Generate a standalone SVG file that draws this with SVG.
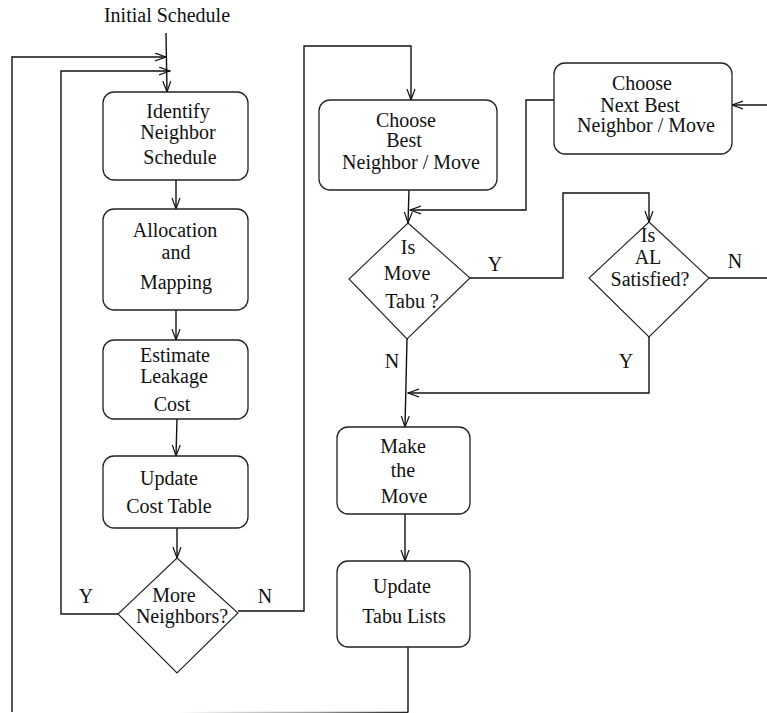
<svg xmlns="http://www.w3.org/2000/svg" width="767" height="713" viewBox="0 0 767 713">
  <style>
    .box { fill: #fff; stroke: #222; stroke-width: 1.3; }
    .dia { fill: #fff; stroke: #222; stroke-width: 1.1; }
    .t { font-family: "Liberation Serif", "Times New Roman", serif; font-size: 20px; fill: #111; text-anchor: middle; }
    .c { fill: none; stroke: #111; stroke-width: 1.4; }
    .ca { fill: none; stroke: #111; stroke-width: 1.4; marker-end: url(#arr); }
  </style>
  <defs>
    <marker id="arr" markerUnits="userSpaceOnUse" markerWidth="12" markerHeight="10" refX="11" refY="4.5" orient="auto">
      <path d="M0,0.5 L11,4.5 L0,8.5" fill="none" stroke="#111" stroke-width="1.2"/>
    </marker>
    <linearGradient id="fade" gradientUnits="userSpaceOnUse" x1="180" y1="0" x2="408" y2="0">
      <stop offset="0" stop-color="#fff"/>
      <stop offset="0.6" stop-color="#999"/>
      <stop offset="1" stop-color="#222"/>
    </linearGradient>
  </defs>

  <text class="t" x="167" y="22">Initial Schedule</text>

  <g id="connectors">
    <path class="ca" d="M166,33 L167,92"/>
    <path class="c" d="M408,647 V712.5"/>
    <line x1="408" y1="712.5" x2="180" y2="712.5" stroke="url(#fade)" stroke-width="1.4"/>
    <path class="ca" d="M12,712 V57 H166"/>
    <path class="ca" d="M118,614 H61 V71 H170"/>
    <path class="ca" d="M176,180 V209"/>
    <path class="ca" d="M176,310 V340"/>
    <path class="ca" d="M177,419 L176,456"/>
    <path class="ca" d="M177,528 V558"/>
    <path class="ca" d="M238,611 H304 V46 H411 V100"/>
    <path class="ca" d="M409,190 L408,223"/>
    <path class="ca" d="M554,100 H526 V210 H410"/>
    <path class="ca" d="M470,278 H563 V193 H649 V222"/>
    <path class="c" d="M709,278 H767"/>
    <path class="ca" d="M767,105 H732"/>
    <path class="ca" d="M649,337 V393 H408"/>
    <path class="ca" d="M407,339 L405,427"/>
    <path class="ca" d="M405,514 V561"/>
  </g>

  <g id="identify">
    <rect class="box" x="103" y="92" width="145" height="88" rx="11"/>
    <text class="t" x="178" y="118">Identify</text>
    <text class="t" x="178" y="139">Neighbor</text>
    <text class="t" x="180" y="164">Schedule</text>
  </g>

  <g id="allocation">
    <rect class="box" x="103" y="209" width="145" height="101" rx="11"/>
    <text class="t" x="175" y="237">Allocation</text>
    <text class="t" x="176" y="259">and</text>
    <text class="t" x="176" y="289">Mapping</text>
  </g>

  <g id="estimate">
    <rect class="box" x="103" y="340" width="145" height="79" rx="11"/>
    <text class="t" x="175" y="362">Estimate</text>
    <text class="t" x="174" y="383">Leakage</text>
    <text class="t" x="172" y="411">Cost</text>
  </g>

  <g id="update-cost">
    <rect class="box" x="103" y="456" width="145" height="72" rx="11"/>
    <text class="t" x="169" y="485">Update</text>
    <text class="t" x="169" y="513">Cost Table</text>
  </g>

  <g id="more-neighbors">
    <polygon class="dia" points="177,558 238,613 177,673 118,614"/>
    <text class="t" x="174" y="602">More</text>
    <text class="t" x="182" y="623">Neighbors?</text>
  </g>
  <text class="t" x="86" y="603">Y</text>
  <text class="t" x="265" y="603">N</text>

  <g id="choose-best">
    <rect class="box" x="319" y="100" width="178" height="90" rx="11"/>
    <text class="t" x="406" y="127">Choose</text>
    <text class="t" x="404" y="147">Best</text>
    <text class="t" x="411" y="169">Neighbor / Move</text>
  </g>

  <g id="choose-next">
    <rect class="box" x="554" y="63" width="178" height="91" rx="11"/>
    <text class="t" x="642" y="90">Choose</text>
    <text class="t" x="640" y="112">Next Best</text>
    <text class="t" x="646" y="132">Neighbor / Move</text>
  </g>

  <g id="is-tabu">
    <polygon class="dia" points="408,223 470,278 407,339 349,279"/>
    <text class="t" x="408" y="254">Is</text>
    <text class="t" x="407" y="280">Move</text>
    <text class="t" x="412" y="308">Tabu ?</text>
  </g>
  <text class="t" x="495" y="271">Y</text>
  <text class="t" x="392" y="368">N</text>

  <g id="aspiration">
    <polygon class="dia" points="649,222 709,278 649,337 589,278"/>
    <text class="t" x="648" y="242">Is</text>
    <text class="t" x="648" y="264">AL</text>
    <text class="t" x="650" y="286">Satisfied?</text>
  </g>
  <text class="t" x="735" y="268">N</text>
  <text class="t" x="626" y="368">Y</text>

  <g id="make-move">
    <rect class="box" x="337" y="427" width="133" height="87" rx="11"/>
    <text class="t" x="403" y="453">Make</text>
    <text class="t" x="403" y="477">the</text>
    <text class="t" x="404" y="503">Move</text>
  </g>

  <g id="update-tabu">
    <rect class="box" x="337" y="561" width="133" height="86" rx="11"/>
    <text class="t" x="402" y="593">Update</text>
    <text class="t" x="404" y="623">Tabu Lists</text>
  </g>
</svg>
